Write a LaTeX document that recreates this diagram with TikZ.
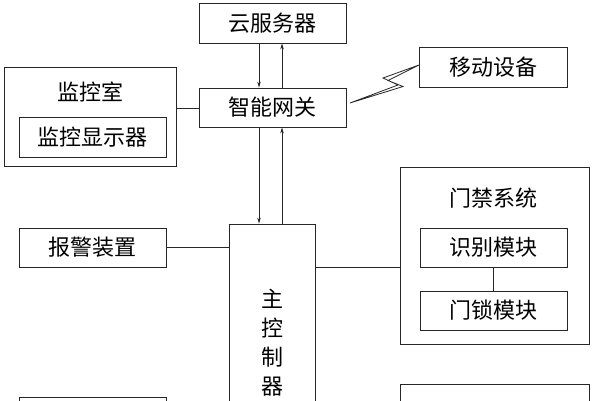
\documentclass[tikz,border=0pt]{standalone}
\usepackage{fontspec}
\setmainfont{Noto Sans CJK SC}
\usetikzlibrary{arrows.meta}
\begin{document}
\begin{tikzpicture}[x=1pt,y=-1pt,
  box/.style={draw=black!85,line width=0.8pt,rectangle,inner sep=0pt,font=\fontsize{22}{26}\selectfont},
  lbl/.style={inner sep=0pt,font=\fontsize{22}{26}\selectfont},
  conn/.style={draw=black!85,line width=0.8pt},
  arr/.style={conn,-{Stealth[length=6pt,width=3.5pt]}}]
\clip (0,0) rectangle (593,400);
\fill[white] (0,0) rectangle (593,400);
% nodes
\node[box,minimum width=147pt,minimum height=40pt] (cloud) at (272.5,23) {云服务器};
\node[box,minimum width=147pt,minimum height=39pt] (gw) at (272.5,107.5) {智能网关};
\node[box,minimum width=172pt,minimum height=99pt] (mon) at (90,116.5) {};
\node[lbl] (montitle) at (90,92) {监控室};
\node[box,minimum width=147pt,minimum height=40pt] (disp) at (92.5,137) {监控显示器};
\node[box,minimum width=148pt,minimum height=40pt] (mobile) at (493,67) {移动设备};
\node[box,minimum width=147pt,minimum height=39pt] (alarm) at (92.5,247.5) {报警装置};
\node[box,minimum width=86pt,minimum height=238pt,align=center,font=\fontsize{22}{29}\selectfont] (main) at (272,343) {主\\控\\制\\器};
\node[box,minimum width=189pt,minimum height=177pt] (acc) at (494.5,255.5) {};
\node[lbl] (acctitle) at (493,198) {门禁系统};
\node[box,minimum width=147pt,minimum height=39pt] (recog) at (493.5,247.5) {识别模块};
\node[box,minimum width=147pt,minimum height=39pt] (lock) at (493.5,310.5) {门锁模块};
\node[box,minimum width=147pt,minimum height=60pt] (bl) at (92.5,427) {};
\node[box,minimum width=189pt,minimum height=60pt] (br) at (494.5,414) {};
% connectors
\draw[arr] (cloud.south -| 259,0) -- (gw.north -| 259,0);
\draw[arr] (gw.north -| 282,0) -- (cloud.south -| 282,0);
\draw[arr] (gw.south -| 259,0) -- (main.north -| 259,0);
\draw[arr] (main.north -| 282,0) -- (gw.south -| 282,0);
\draw[conn] (mon.east |- 0,108) -- (gw.west |- 0,108);
\draw[conn] (alarm.east) -- (main.west |- alarm.east);
\draw[conn] (main.east |- 0,267) -- (acc.west |- 0,267);
\draw[conn] (recog.south) -- (lock.north);
% lightning bolt
\coordinate (b1) at (350,103);
\coordinate (b2) at (403,86.5);
\coordinate (b3) at (388,80.5);
\coordinate (b4) at (419,65);
\coordinate (b5) at (383,78);
\coordinate (b6) at (398,85);
\draw[conn,line join=miter] (b1) -- (b2) -- (b3) -- (b4) -- (b5) -- (b6) -- cycle;
\end{tikzpicture}
\end{document}
